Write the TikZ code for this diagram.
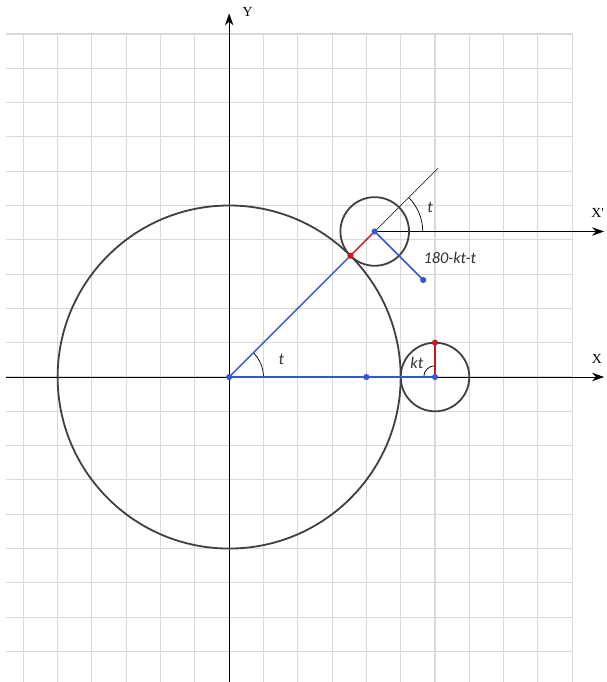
\documentclass[tikz,border=0pt]{standalone}
\usepackage{fontspec}
\setmainfont{Liberation Serif}
\newfontfamily\lblfont{Carlito}
\usepackage{tikz}
\usetikzlibrary{arrows.meta,calc}
\definecolor{lineblue}{RGB}{52,88,208}
\definecolor{linered}{RGB}{200,24,24}
\definecolor{circgray}{RGB}{64,64,64}

\begin{document}
\begin{tikzpicture}[
    axis/.style={line width=0.7pt,-{Stealth[length=10pt,width=7pt]}},
    circ/.style={circgray,line width=1.5pt},
    bl/.style={lineblue,line width=1.2pt},
    rd/.style={linered,line width=1.2pt},
    bdot/.style={fill=lineblue},
    rdot/.style={fill=linered},
    lbl/.style={font=\lblfont\itshape\fontsize{13.5}{15}\selectfont,text=black!80}
  ]
            \useasboundingbox (-6.68,-8.89) rectangle (10.99,10.99);
            \draw[black!15,line width=0.9pt] (-6.5,-8.89) grid (10,10);
            \coordinate (O) at (0,0);
            \coordinate (A) at (6,0);
            \coordinate (B) at (45:6);
            \coordinate (P) at (45:5);
            \draw[axis] (-6.5,0) -- (10.93,0);
            \draw[axis] (0,-8.89) -- (0,10.6);
            \draw[axis] (B) -- (B -| 10.93,0);
            \node[font=\fontsize{11.5}{13}\selectfont] at (10.72,0.52) {X};
            \node[font=\fontsize{11.5}{13}\selectfont] at (0.54,10.64) {Y};
            \node[font=\fontsize{11.5}{13}\selectfont] at (10.74,4.77) {X\textquotesingle};
            \draw[line width=0.5pt] (B) -- ($(B)+(45:2.6)$);
            \draw[circ] (O) circle (5);
            \draw[circ] (A) circle (1);
            \draw[circ] (B) circle (1);
            \draw[line width=0.6pt] (1,0) arc (0:45:1);
            \draw[line width=0.6pt] ($(B)+(1.4,0)$) arc (0:45:1.4);
            \draw[line width=0.6pt] ($(A)+(-0.33,0)$) arc (180:90:0.33);
            \draw[bl] (O) -- (A);
            \draw[bl] (O) -- (P);
            \draw[bl] (B) -- ($(B)+(-45:2)$);
            \draw[rd] (A) -- ($(A)+(0,1)$);
            \draw[rd] (P) -- (B);
            \fill[bdot] (O) circle (0.09) (4,0) circle (0.09) (A) circle (0.09)
              (B) circle (0.09) ($(B)+(-45:2)$) circle (0.09);
            \fill[rdot] ($(A)+(0,1)$) circle (0.09) (P) circle (0.09);
            \node[lbl] at (1.52,0.5) {t};
            \node[lbl] at (5.86,4.94) {t};
            \node[lbl] at (5.47,0.40) {kt};
            \node[lbl] at (6.43,3.48) {180-kt-t};
        \end{tikzpicture}
\end{document}
